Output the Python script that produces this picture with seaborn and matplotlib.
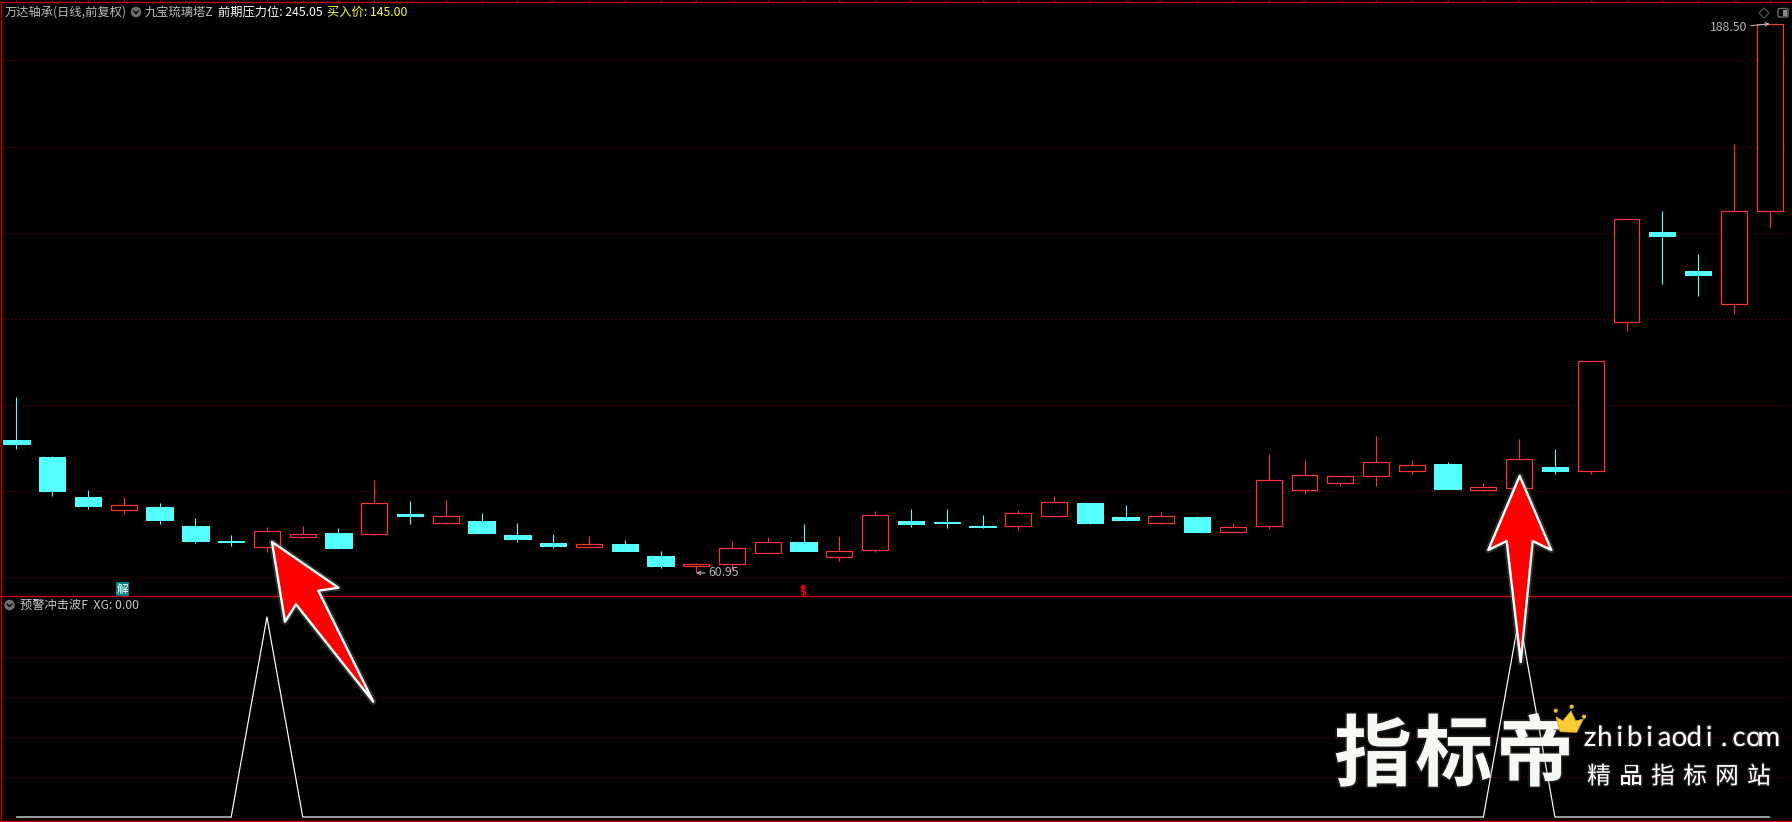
"""Daily candlestick chart with a lower XG signal pane."""
import numpy as np
import pandas as pd
import matplotlib
matplotlib.use("Agg")
import matplotlib.pyplot as plt
import matplotlib.patheffects as pe
from matplotlib.patches import Circle, FancyBboxPatch, Polygon, Rectangle
from matplotlib.transforms import Affine2D
import seaborn as sns

opens = [91.83, 87.88, 78.58, 75.63, 76.26, 71.85, 68.29, 67.04, 69.36, 70.22,
         70.06, 74.63, 72.61, 73.01, 69.76, 67.90, 67.04, 67.67, 64.88, 62.56,
         63.02, 65.58, 68.13, 64.65, 66.27, 73.01, 72.78, 71.85, 71.85, 74.17,
         77.19, 73.94, 72.54, 73.94, 70.45, 71.92, 80.28, 81.84, 83.53, 84.69,
         86.25, 80.21, 80.74, 85.55, 84.55, 119.31, 140.14, 131.08, 123.49, 144.95]
closes = [90.90, 79.98, 76.49, 76.66, 73.24, 68.36, 68.13, 70.62, 69.92, 66.74,
          77.12, 74.17, 74.10, 70.22, 68.83, 67.20, 67.67, 66.04, 62.56, 63.02,
          66.74, 68.13, 66.04, 66.04, 74.40, 72.31, 72.54, 71.62, 74.87, 77.42,
          72.54, 73.24, 74.17, 70.45, 71.62, 82.46, 83.62, 83.39, 86.65, 85.95,
          80.44, 80.84, 87.34, 84.62, 110.18, 143.09, 139.21, 130.15, 144.95, 188.40]
highs = [101.81, 88.11, 80.21, 78.58, 77.19, 73.71, 69.76, 71.62, 71.85, 71.38,
         82.53, 77.65, 77.89, 74.87, 72.54, 69.99, 69.52, 68.60, 66.04, 63.25,
         68.36, 69.29, 72.31, 69.52, 75.33, 75.80, 75.80, 74.40, 75.56, 78.82,
         77.19, 76.73, 75.10, 74.17, 72.54, 88.57, 87.18, 83.39, 92.75, 87.18,
         86.71, 81.84, 92.06, 89.73, 110.18, 143.09, 145.02, 135.03, 160.59, 188.50]
lows = [89.73, 78.82, 75.80, 74.63, 72.31, 67.90, 67.20, 65.81, 69.06, 66.50,
        69.76, 72.31, 72.31, 70.22, 68.13, 66.74, 66.74, 66.04, 62.09, 60.95,
        61.63, 65.58, 66.04, 63.72, 65.81, 71.62, 71.38, 71.38, 70.92, 74.17,
        72.31, 73.01, 72.31, 70.45, 70.45, 71.15, 79.28, 81.14, 81.14, 83.93,
        80.44, 79.98, 80.21, 83.93, 84.00, 117.22, 128.06, 125.28, 121.17, 141.07]
xg = [0, 0, 0, 0, 0, 0, 0, 1, 0, 0, 0, 0, 0, 0, 0, 0, 0, 0, 0, 0, 0, 0, 0, 0, 0,
      0, 0, 0, 0, 0, 0, 0, 0, 0, 0, 0, 0, 0, 0, 0, 0, 0, 1, 0, 0, 0, 0, 0, 0, 0]
price_grid = [60, 80, 100, 120, 140, 160, 180]
xg_grid = [0.2, 0.4, 0.6, 0.8]

RED = "#FF3232"
CYAN = "#54FFFF"
BORDER = "#C80000"
GRID = "#8C0000"
GRAY = "#B4B4B4"
PX = 0.72  # one pixel in points at dpi 100

sns.set_theme(style="dark", rc={"axes.facecolor": "black", "figure.facecolor": "black"})
plt.rcParams["font.family"] = ["Noto Sans CJK SC", "DejaVu Sans"]

fig = plt.figure(figsize=(17.92, 8.22), dpi=100)
ax = fig.add_axes([1 / 1792, 226 / 822, 1791 / 1792, 594 / 822])
ax_xg = fig.add_axes([1 / 1792, 1 / 822, 1791 / 1792, 225 / 822])
ax_xg.patch.set_visible(False)
pix = Affine2D().scale(1, -1).translate(0, 822)  # annotation layer, top-left origin

candles = pd.DataFrame({"open": opens, "close": closes, "high": highs, "low": lows})
candles["day"] = candles.index
up = candles[candles["close"] >= candles["open"]]
down = candles[candles["close"] < candles["open"]]

ax.hlines(price_grid, -0.38, 49.51, colors=GRID, linewidth=PX, linestyles=(0, (1, 3)), zorder=1)
ax.vlines(up["day"], up["low"], up["high"], colors=RED, linewidth=PX * 1.1, zorder=2)
ax.vlines(down["day"], down["low"], down["high"], colors=CYAN, linewidth=PX * 1.1, zorder=2)
ax.bar(up["day"], up["close"] - up["open"], bottom=up["open"], width=0.725,
       facecolor="black", edgecolor=RED, linewidth=PX * 1.2, zorder=3)
ax.bar(down["day"], down["close"] - down["open"], bottom=down["open"], width=0.735,
       facecolor=CYAN, edgecolor=CYAN, linewidth=PX, zorder=3)
ax.set_xlim(-0.433, 49.625)
ax.set_ylim(55.59, 193.57)

ax.annotate("60.95", xy=(19, 60.95), xytext=(12, 0), textcoords="offset pixels",
            color=GRAY, fontsize=8.8, va="center", ha="left",
            arrowprops=dict(arrowstyle="->", color=GRAY, lw=0.8, shrinkA=0, shrinkB=0, mutation_scale=6))
ax.annotate("188.50", xy=(49, 188.50), xytext=(-22, -4), textcoords="offset pixels",
            color=GRAY, fontsize=8.8, va="center", ha="right",
            arrowprops=dict(arrowstyle="->", color=GRAY, lw=0.8, shrinkA=0, shrinkB=0, mutation_scale=6))

signal = pd.DataFrame({"day": range(len(xg)), "xg": xg})
ax_xg.hlines(xg_grid, -0.38, 49.51, colors=GRID, linewidth=PX, linestyles=(0, (1, 3)), zorder=1)
sns.lineplot(data=signal, x="day", y="xg", ax=ax_xg, color="white", linewidth=PX * 1.2,
             errorbar=None, legend=False, zorder=2)
ax_xg.set_xlim(-0.433, 49.625)
ax_xg.set_ylim(-0.02, 1.105)
ax_xg.set_xlabel("")
ax_xg.set_ylabel("")

for a in (ax, ax_xg):
    a.grid(False)
    a.set_yticks([])
    for side in a.spines:
        a.spines[side].set_color(BORDER)
        a.spines[side].set_linewidth(PX * 1.4)
    a.spines["right"].set_visible(False)
ax_xg.spines["top"].set_visible(False)
ax.set_xticks(candles["day"])
ax.tick_params(axis="x", top=True, bottom=False, labelbottom=False, direction="out",
               length=1.5, width=PX, color=BORDER)
ax_xg.set_xticks([])


def label(x, y, text, color, size=8.8, **kw):
    return fig.text(x, y, text, color=color, fontsize=size, transform=pix,
                    va="center", ha=kw.pop("ha", "left"), zorder=4, **kw)


def chevron_badge(x, y):
    fig.add_artist(Circle((x, y), 5.3, transform=pix, facecolor="#6E6E6E", edgecolor="none", zorder=4))
    fig.add_artist(plt.Line2D([x - 2.5, x, x + 2.5], [y - 1, y + 1.5, y - 1], transform=pix,
                              color="#161616", linewidth=1.2, zorder=5))


label(5, 12, "万达轴承(日线,前复权)", "#BEBEBE")
chevron_badge(136, 12)
label(145, 12, "九宝琉璃塔Z", "#BEBEBE")
label(218, 12, "前期压力位: 245.05", "white")
label(327, 12, "买入价: 145.00", "#FFFF33")
chevron_badge(9.5, 605)
label(20, 605, "预警冲击波F  XG: 0.00", "#C8C8C8")

# top-right toolbar icons
fig.add_artist(Polygon([(1764, 8), (1769, 13), (1764, 18), (1759, 13)], transform=pix,
                       facecolor="none", edgecolor="#5A5A5A", linewidth=0.8, zorder=4))
fig.add_artist(FancyBboxPatch((1778, 8.5), 10, 8.5, boxstyle="round,pad=0,rounding_size=1.5", transform=pix,
                              facecolor="none", edgecolor="#6E6E6E", linewidth=1.0, zorder=4))
fig.add_artist(Rectangle((1783, 9.5), 4, 6.5, transform=pix, facecolor="#8A8A8A", edgecolor="none", zorder=4))

# event markers above the pane divider
fig.add_artist(Rectangle((116, 582), 13, 14, transform=pix, facecolor="#008080", edgecolor="none", zorder=4))
label(122.5, 589, "解", "white", size=8.4, ha="center")
fig.add_artist(Polygon([(803, 584), (806, 588), (800, 588)], transform=pix, facecolor="#F00000",
                       edgecolor="none", zorder=4))
label(803, 591.5, "$", "#F00000", size=7.5, ha="center", fontweight="bold", family=["DejaVu Sans"])

# hand drawn call-out arrows
arrow_left = [(272, 542), (338.3, 587.7), (318.3, 590.7), (373.3, 701.7), (296, 604.3), (285, 621.7)]
arrow_right = [(1519.7, 476), (1551.3, 550), (1532.7, 541), (1520.7, 662), (1506.7, 541), (1488.3, 550)]
for shape in (arrow_left, arrow_right):
    arrow = Polygon(shape, closed=True, transform=pix, facecolor="#FF0000", edgecolor="white",
                    linewidth=1.7, joinstyle="round", zorder=6)
    arrow.set_path_effects([pe.Stroke(linewidth=4.5, foreground="#808080", alpha=0.35), pe.Normal()])
    fig.add_artist(arrow)

# site watermark
glow = [pe.withStroke(linewidth=2.5, foreground="#505050", alpha=0.35)]
for x, ch in zip([1373, 1454, 1535], "指标帝"):
    t = fig.text(x, 757, ch, color="#F7F9F5", fontsize=56, fontweight="bold", transform=pix,
                 ha="center", va="center", zorder=7)
    t.set_path_effects(glow)
fig.add_artist(Polygon([(1556, 716.7), (1562.7, 721), (1571, 711), (1575.7, 721), (1583.3, 719),
                        (1576.7, 732.3), (1560, 731.7)], transform=pix, facecolor="#F5CF35",
                       edgecolor="#D9A520", linewidth=0.6, zorder=8))
for cx, cy in [(1555.7, 710.7), (1571.7, 706.7), (1584, 716.7)]:
    fig.add_artist(Circle((cx, cy), 2.1, transform=pix, facecolor="#F0B82A", edgecolor="none", zorder=8))
for x, ch in zip(np.arange(1590, 1780, 14.9), "zhibiaodi.com"):
    t = fig.text(x, 738, ch, color="white", fontsize=20, transform=pix, ha="center", va="center",
                 family=["Lato"], zorder=7)
    t.set_path_effects([pe.withStroke(linewidth=2, foreground="#505050", alpha=0.4)])
for x, ch in zip(np.arange(1599, 1770, 32), "精品指标网站"):
    t = fig.text(x, 777, ch, color="white", fontsize=17, transform=pix, ha="center", va="center", zorder=7)
    t.set_path_effects([pe.withStroke(linewidth=2, foreground="#505050", alpha=0.4)])

fig.savefig("out.png", dpi=100, facecolor="black")
plt.close(fig)
